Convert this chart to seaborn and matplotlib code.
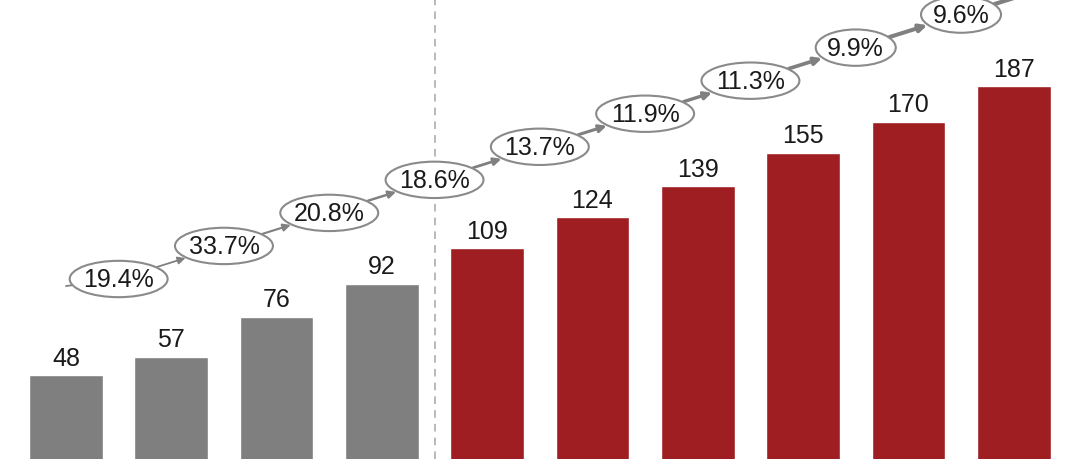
import matplotlib
matplotlib.use("Agg")
import matplotlib.pyplot as plt
from matplotlib.patches import Ellipse
import seaborn as sns
import pandas as pd

# ---- data ----
periods = ["P1", "P2", "P3", "P4", "P5", "P6", "P7", "P8", "P9", "P10"]
values = [48, 57, 76, 92, 109, 124, 139, 155, 170, 187]
is_forecast = [False, False, False, False, True, True, True, True, True, True]
growth_labels = ["19.4%", "33.7%", "20.8%", "18.6%", "13.7%", "11.9%", "11.3%", "9.9%", "9.6%"]

sns.set_theme(style="white")
plt.rcParams["font.family"] = ["Liberation Sans", "DejaVu Sans"]

GRAY = "#7f7f7f"
RED = "#9f1e22"
colors = [RED if f else GRAY for f in is_forecast]

df = pd.DataFrame({"period": periods, "value": values})

fig = plt.figure(figsize=(10.8, 4.6), dpi=100)
ax = fig.add_axes([0, 0, 1, 1])
sns.barplot(data=df, x="period", y="value", hue="period", palette=colors,
            legend=False, width=0.70, saturation=1, ax=ax)

ax.set_xlim(-0.627, 9.63)
ax.set_ylim(7.7, 229)
ax.axis("off")

# value labels
for cont in ax.containers:
    ax.bar_label(cont, fmt="%d", padding=4, fontsize=18, color="#1a1a1a")

# dashed divider between actual and forecast
ax.axvline(3.5, color="#a6a6a6", lw=1.1, ls=(0, (5, 4)), zorder=1)

# growth ellipses chain (layout: linear ramp between bars)
n = len(growth_labels)
cx = [k + 0.5 for k in range(n)]
cy = [94.3 + 15.9 * k for k in range(n)]
ells = []
for k, lab in enumerate(growth_labels):
    w = 0.93 if len(lab) >= 5 else 0.76
    e = Ellipse((cx[k], cy[k]), width=w, height=17.5, facecolor="white",
                edgecolor="#8a8a8a", lw=1.5, zorder=5)
    ax.add_patch(e)
    ells.append(e)
    ax.text(cx[k], cy[k], lab, ha="center", va="center", fontsize=18,
            color="#1a1a1a", zorder=6)

# connectors with arrowheads
for k in range(n - 1):
    lw = 1.3 + 1.6 * k / (n - 2)
    ax.annotate("", xy=(cx[k + 1], cy[k + 1]), xytext=(cx[k], cy[k]),
                arrowprops=dict(arrowstyle="-|>", color="#808080", lw=lw,
                                mutation_scale=11, patchA=ells[k], patchB=ells[k + 1],
                                shrinkA=0, shrinkB=0),
                zorder=4)
# stub entering the first ellipse and tail leaving the last one
ax.annotate("", xy=(cx[0], cy[0]), xytext=(0.0, 90.9),
            arrowprops=dict(arrowstyle="-", color="#808080", lw=1.3,
                            patchB=ells[0], shrinkA=0, shrinkB=0), zorder=4)
ax.annotate("", xy=(cx[-1] + 1.0, cy[-1] + 15.9), xytext=(cx[-1], cy[-1]),
            arrowprops=dict(arrowstyle="-|>", color="#808080", lw=3.0,
                            mutation_scale=12, patchA=ells[-1], shrinkA=0, shrinkB=0),
            zorder=4, annotation_clip=False)

fig.savefig("out.png", dpi=100)
